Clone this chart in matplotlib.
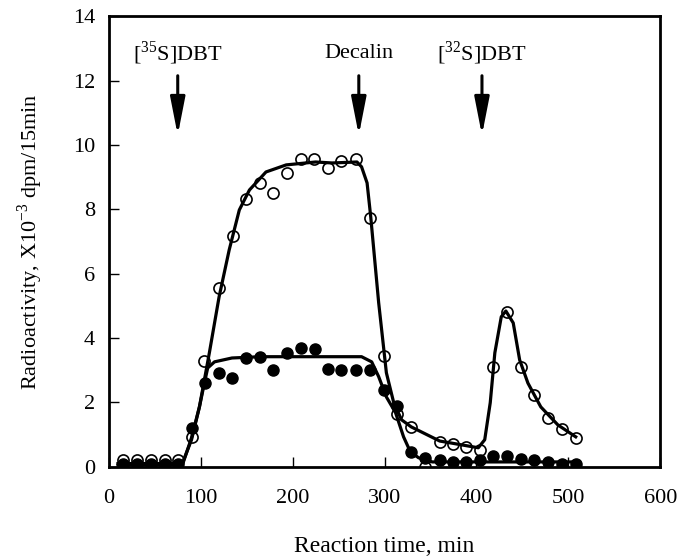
import numpy as np
import matplotlib.pyplot as plt

plt.rcParams['font.family'] = ['Liberation Serif', 'DejaVu Serif']
plt.rcParams['mathtext.fontset'] = 'custom'
plt.rcParams['mathtext.rm'] = 'Liberation Serif'

# open circles: [35S] radioactivity
t_open = [15, 31, 46, 61, 75, 91, 104, 120, 135, 149, 165, 179, 194, 209, 223, 238,
          253, 269, 284, 299, 314, 329, 344, 360, 374, 389, 404, 418, 433, 448, 463,
          478, 493, 508]
v_open = [0.2, 0.2, 0.2, 0.2, 0.2, 0.93, 3.3, 5.56, 7.17, 8.32, 8.82, 8.51, 9.13, 9.57,
          9.57, 9.29, 9.5, 9.57, 7.73, 3.45, 1.65, 1.24, 0.0, 0.78, 0.71, 0.6, 0.53,
          3.1, 4.8, 3.1, 2.24, 1.52, 1.18, 0.9]

# filled circles
t_fill = [15, 31, 46, 61, 75, 91, 105, 120, 134, 149, 165, 179, 194, 209, 224, 238,
          253, 269, 284, 299, 314, 329, 344, 360, 374, 389, 404, 418, 433, 448, 463,
          478, 493, 508]
v_fill = [0.1, 0.1, 0.1, 0.1, 0.1, 1.2, 2.6, 2.9, 2.77, 3.38, 3.42, 3.0, 3.55, 3.7,
          3.65, 3.03, 3.0, 3.0, 3.0, 2.4, 1.9, 0.45, 0.28, 0.2, 0.15, 0.15, 0.2,
          0.33, 0.35, 0.25, 0.2, 0.15, 0.1, 0.1]

# fitted curves
t_cur1 = [10, 80, 90, 98.6, 109.4, 120, 131, 142, 153, 171, 193, 225, 243, 270, 275,
          281, 285, 293.6, 302, 310, 318.5, 329, 360, 402, 409, 415, 420, 427, 432,
          440, 447, 456, 470, 488.6, 508]
v_cur1 = [0.1, 0.1, 0.84, 1.86, 3.54, 5.28, 6.74, 7.98, 8.6, 9.16, 9.38, 9.47, 9.44,
          9.47, 9.32, 8.82, 7.76, 5.1, 2.92, 1.99, 1.46, 1.24, 0.8, 0.59, 0.84, 1.99,
          3.54, 4.66, 4.84, 4.47, 3.32, 2.6, 1.86, 1.3, 0.93]

t_cur2 = [10, 80, 90, 98.6, 104, 107.6, 115, 134, 165, 275, 286, 293.6, 302, 312,
          320.7, 328, 337, 352, 510]
v_cur2 = [0.05, 0.05, 0.9, 1.86, 2.6, 3.07, 3.26, 3.38, 3.42, 3.42, 3.26, 2.8, 2.17,
          1.68, 0.93, 0.47, 0.28, 0.15, 0.15]

arrow_t = [75, 272, 406]
arrow_lab = [r'[$^{35}$S]DBT', 'Decalin', r'[$^{32}$S]DBT']

fig = plt.figure(figsize=(6.8, 5.59), dpi=100)
ax = fig.add_axes([0.160, 0.165, 0.811, 0.806])

ax.plot(t_cur1, v_cur1, 'k-', lw=2.3, zorder=2)
ax.plot(t_cur2, v_cur2, 'k-', lw=2.3, zorder=2)
ax.plot(t_open, v_open, 'o', mfc='none', mec='k', mew=1.2, ms=8, zorder=3)
ax.plot(t_fill, v_fill, 'o', mfc='k', mec='k', ms=8, zorder=3)

for t, lab in zip(arrow_t, arrow_lab):
    ax.annotate('', xy=(t, 10.3), xytext=(t, 12.15),
                arrowprops=dict(arrowstyle='-|>,head_length=2.3,head_width=0.45',
                                color='k', lw=2.2, shrinkA=0, shrinkB=0))
    ax.text(t, 12.85, lab, ha='center', va='center', fontsize=16)

ax.set_xlim(0, 600)
ax.set_ylim(0, 14)
ax.set_xticks(range(0, 601, 100))
ax.set_yticks(range(0, 15, 2))
ax.tick_params(direction='in', length=7, width=1, labelsize=16, top=False, right=False)
ax.tick_params(axis='x', pad=16)
ax.tick_params(axis='y', pad=10)
for s in ax.spines.values():
    s.set_linewidth(2)

ax.set_xlabel('Reaction time, min', fontsize=17, labelpad=20)
ax.set_ylabel(r'Radioactivity, X10$^{-3}$ dpm/15min', fontsize=16, labelpad=20)

plt.savefig('out.png', dpi=100)
